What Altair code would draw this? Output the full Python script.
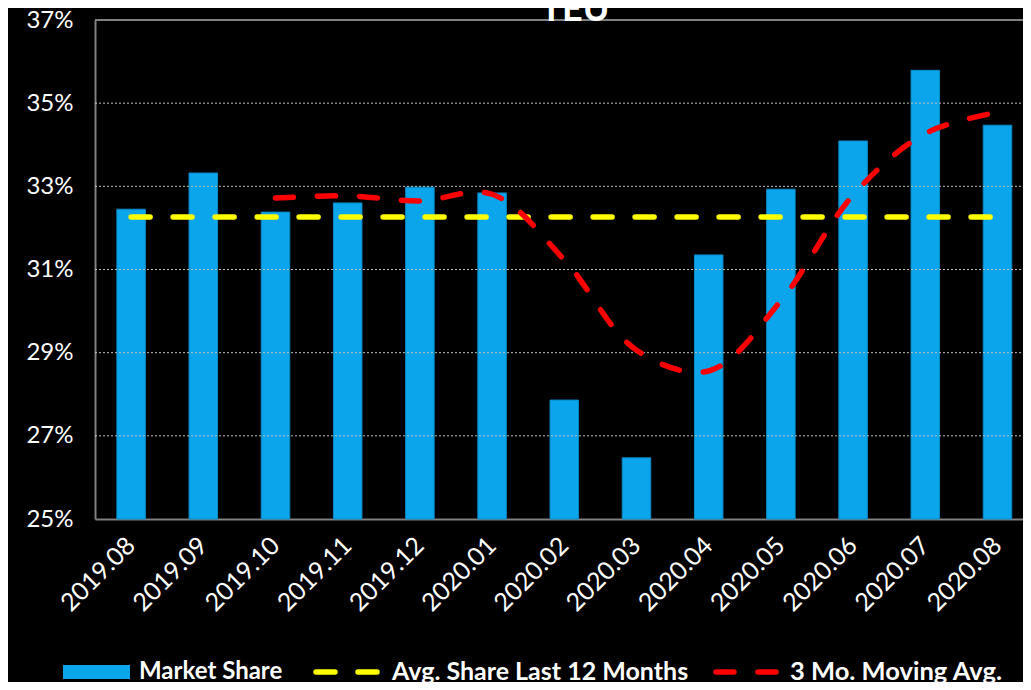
import altair as alt
import pandas as pd

# ---- data ----
months = ["2019.08", "2019.09", "2019.10", "2019.11", "2019.12", "2020.01",
          "2020.02", "2020.03", "2020.04", "2020.05", "2020.06", "2020.07", "2020.08"]
market_share = [32.45, 33.32, 32.38, 32.60, 32.98, 32.84,
                27.86, 26.47, 31.35, 32.93, 34.09, 35.79, 34.47]
avg_last_12 = [32.26] * 13
moving_avg_3 = [None, None, 32.72, 32.77, 32.65, 32.81,
                31.23, 29.06, 28.56, 30.25, 32.79, 34.27, 34.78]
y_ticks = [25, 27, 29, 31, 33, 35, 37]
grid_values = [27, 29, 31, 33, 35]
top_value = [37]
legend_labels = ["Market Share", "Avg. Share Last 12 Months", "3 Mo. Moving Avg."]
title_text = "TEU"

df = pd.DataFrame({"month": months, "share": market_share,
                   "avg": avg_last_12, "mavg": moving_avg_3})

FONT = "Lato"
BLUE = "#0AA5EB"
YELLOW = "#FFFF00"
RED = "#FF0000"
GREY = "#808080"

xscale = alt.Scale(domain=months, range=[0, 938.6], paddingInner=0.605, paddingOuter=0.3025)
yscale = alt.Scale(domain=[25, 37], zero=False, nice=False)

xaxis = alt.Axis(title=None, labelAngle=-45, labelAlign="right", labelBaseline="middle",
                 labelFontSize=25, labelColor="white", labelFont=FONT, labelPadding=22,
                 ticks=False, domainColor=GREY, domainWidth=2, grid=False)
yaxis = alt.Axis(title=None, values=y_ticks, labelExpr="datum.value + '%'",
                 labelFontSize=24, labelColor="white", labelFont=FONT, labelPadding=22,
                 ticks=False, domainColor=GREY, domainWidth=2, grid=False)

X = alt.X("month:N", sort=months, scale=xscale, axis=xaxis)

base = alt.Chart(df)

bars = base.mark_bar(color=BLUE, stroke="#0A8CC8", strokeWidth=1).encode(
    x=X, y=alt.Y("share:Q", scale=yscale, axis=yaxis), y2=alt.datum(25)
)

grid = alt.Chart(pd.DataFrame({"v": grid_values})).mark_rule(
    color="#BFBFBF", strokeWidth=1, strokeDash=[2, 2]
).encode(y=alt.Y("v:Q", scale=yscale, axis=yaxis), x=alt.value(0), x2=alt.value(932))

top_line = alt.Chart(pd.DataFrame({"v": top_value})).mark_rule(
    color=GREY, strokeWidth=2
).encode(y=alt.Y("v:Q", scale=yscale, axis=yaxis), x=alt.value(0), x2=alt.value(940))

avg_line = base.mark_line(color=YELLOW, strokeWidth=5.5, strokeDash=[19, 23],
                          strokeCap="round").encode(
    x=X, y=alt.Y("avg:Q", scale=yscale, axis=yaxis)
)

mov_line = base.transform_filter("isValid(datum.mavg)").mark_line(
    color=RED, strokeWidth=5.5, strokeDash=[18, 24], strokeCap="round",
    interpolate="catmull-rom"
).encode(x=X, y=alt.Y("mavg:Q", scale=yscale, axis=yaxis))

title = alt.Chart(pd.DataFrame({"t": [title_text]})).mark_text(
    font=FONT, fontSize=36, fontWeight="bold", color="white",
    align="center", baseline="alphabetic"
).encode(text="t:N", x=alt.value(480), y=alt.value(1))

LY = 652
leg_rect = alt.Chart(pd.DataFrame({"l": [legend_labels[0]]})).mark_rect(color=BLUE).encode(
    x=alt.value(-32), x2=alt.value(35), y=alt.value(LY - 7), y2=alt.value(LY + 7))
leg_yel = alt.Chart(pd.DataFrame({"l": [legend_labels[1]]})).mark_rule(
    color=YELLOW, strokeWidth=5.5, strokeDash=[19, 23], strokeCap="round").encode(
    x=alt.value(221), x2=alt.value(282), y=alt.value(LY))
leg_red = alt.Chart(pd.DataFrame({"l": [legend_labels[2]]})).mark_rule(
    color=RED, strokeWidth=5.5, strokeDash=[18, 24], strokeCap="round").encode(
    x=alt.value(621), x2=alt.value(681), y=alt.value(LY))


def leg_text(label, xpos, size):
    return alt.Chart(pd.DataFrame({"l": [label]})).mark_text(
        font=FONT, fontSize=size, fontWeight="bold", color="white",
        align="left", baseline="middle"
    ).encode(text="l:N", x=alt.value(xpos), y=alt.value(LY))


chart = alt.layer(
    bars, grid, avg_line, mov_line, top_line, title,
    leg_rect, leg_yel, leg_red,
    leg_text(legend_labels[0], 44, 24), leg_text(legend_labels[1], 297, 25),
    leg_text(legend_labels[2], 695, 25.5),
).properties(
    width=928, height=499,
    padding={"left": 87, "top": 12, "right": 0, "bottom": 163},
    autosize=alt.AutoSizeParams(type="none"),
    background="black",
).configure_view(stroke=None)

chart.save("out.html", embed_options={"renderer": "svg", "actions": False})
